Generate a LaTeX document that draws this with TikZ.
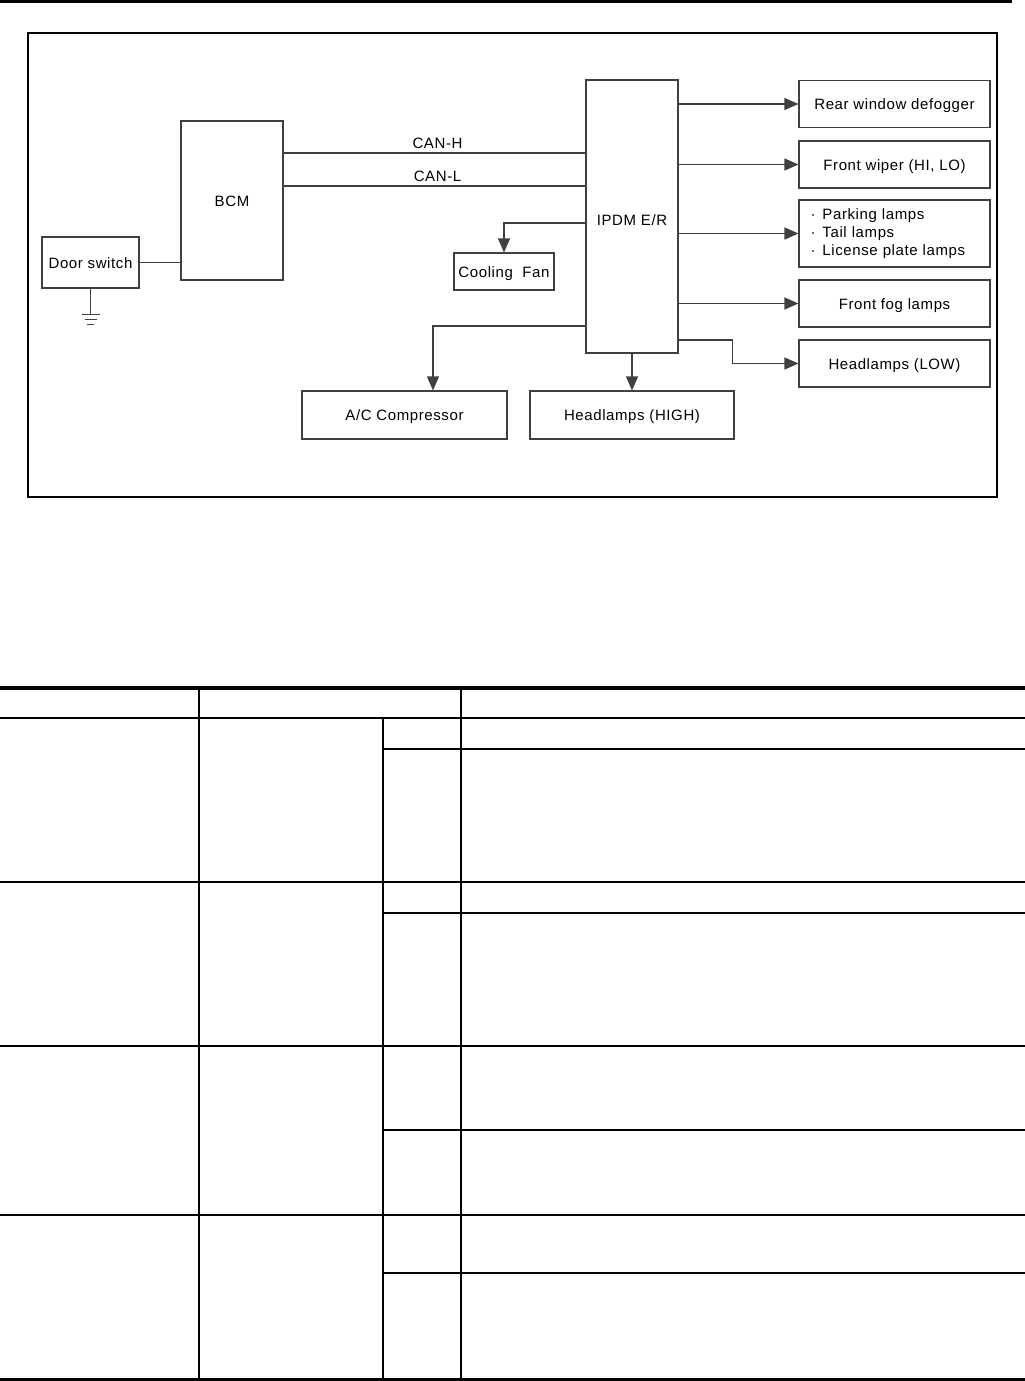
\documentclass[tikz,border=0pt]{standalone}
\usepackage{fontspec}
\usepackage{tikz}
\usetikzlibrary{arrows.meta,positioning,calc}
\newfontfamily\unitfont[LetterSpace=4]{Liberation Sans}
\newcommand{\bul}{·\hspace{7pt}}
\tikzset{
  >={Triangle[length=14pt,width=12pt]},
  every node/.style={font=\unitfont\fontsize{15}{18}\selectfont,text=black},
  unit/.style={draw=black!75,line width=1.1pt,inner sep=0pt,align=center},
  oneline/.style={text height=11pt,text depth=0pt},
  load/.style={unit,minimum width=191pt,minimum height=47pt},
  wire/.style={draw=black!75,line width=1.1pt},
  feed/.style={wire,->},
  rule/.style={draw=black,line width=1.3pt}
}
\begin{document}
\begin{tikzpicture}[x=1pt,y=-1pt]
  \useasboundingbox (0,0) rectangle (1025,1381);
  \fill (0,0) rectangle (1012,3.5);
  \draw[line width=2.2pt] (28,33) rectangle (997,497);

  \node[unit,oneline,minimum width=102pt,minimum height=159pt] (bcm) at (232,200.5) {BCM};
  \node[unit,oneline,minimum width=97pt,minimum height=51pt] (door) at (90.5,262.5) {Door switch};
  \node[unit,oneline,minimum width=92pt,minimum height=273pt] (ipdm) at (632,216.5) {\raisebox{-3pt}{IPDM E/R}};
  \node[unit,oneline,minimum width=100pt,minimum height=37pt] (fan) at (504,271.5) {Cooling~~Fan};
  \node[load,oneline] (defog) at (894.5,104) {Rear window defogger};
  \node[load,oneline] (wiper) at (894.5,164.5) {Front wiper (HI, LO)};
  \node[load,minimum height=67pt,align=left,text width=168pt] (park) at (894.5,233.5) {\bul Parking lamps\\\bul Tail lamps\\\bul License plate lamps};
  \node[load,oneline] (fog) at (894.5,303.5) {Front fog lamps};
  \node[load,oneline] (low) at (894.5,363.5) {Headlamps (LOW)};
  \node[unit,oneline,minimum width=205pt,minimum height=48pt] (ac) at (404.5,415) {A/C Compressor};
  \node[unit,oneline,minimum width=204pt,minimum height=48pt] (high) at (632,415) {Headlamps (HIGH)};

  % door switch and ground
  \draw[wire] (door.east) -- (door.east -| bcm.west);
  \draw[wire] (door.south) -- ++(0,26) coordinate (gnd);
  \foreach \dy/\hw in {0/9,4.5/6,9.5/3.5}
    \draw[wire] ($(gnd)+(-\hw,\dy)$) -- ($(gnd)+(\hw,\dy)$);

  % CAN lines
  \coordinate (canh) at ($(bcm.east)+(0,-47.5)$);
  \coordinate (canl) at ($(bcm.east)+(0,-14.5)$);
  \draw[wire] (canh) -- (canh -| ipdm.west) node[midway,above,xshift=3pt] {CAN-H};
  \draw[wire] (canl) -- (canl -| ipdm.west) node[midway,above,xshift=3pt] {CAN-L};

  % outputs
  \coordinate (fanT) at ($(ipdm.west)+(0,6.5)$);
  \draw[feed] (fanT) -| (fan.north);
  \coordinate (acT) at ($(ipdm.west)+(0,109.5)$);
  \draw[feed] (acT) -| ($(ac.north)+(28.5,0)$);
  \draw[feed] (ipdm.south) -- (high.north);
  \foreach \dev in {defog,wiper,park,fog}
    \draw[feed] (ipdm.east |- \dev.west) -- (\dev.west);
  \coordinate (lowT) at ($(ipdm.east)+(0,123.5)$);
  \draw[feed] (lowT) -| ($(low.west)+(-66,0)$) -- (low.west);

  % table grid
  \fill (0,686) rectangle (1025,689.5);
  \fill (0,1377.5) rectangle (1025,1381);
  \foreach \y in {718,882,1046,1215}
    \draw[rule] (0,\y) -- (1025,\y);
  \foreach \y in {749,913,1130,1273}
    \draw[rule] (383,\y) -- (1025,\y);
  \foreach \x in {199,461}
    \draw[rule] (\x,687) -- (\x,1379);
  \draw[rule] (383,718) -- (383,1379);
\end{tikzpicture}
\end{document}
